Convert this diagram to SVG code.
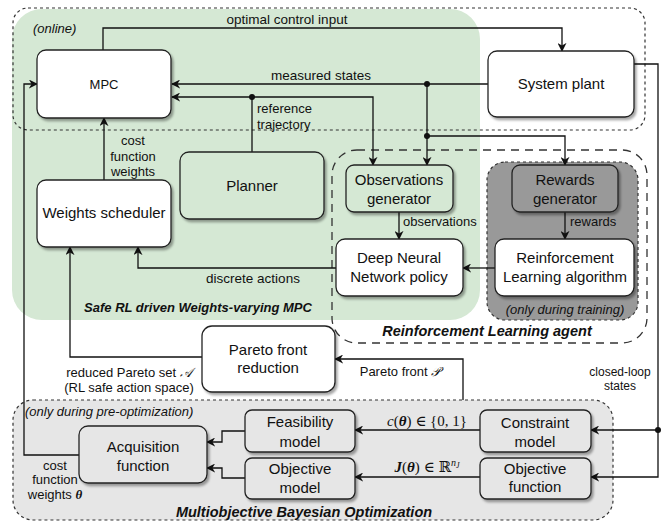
<svg xmlns="http://www.w3.org/2000/svg" width="664" height="521" viewBox="0 0 664 521">
<style>
text{font-family:"Liberation Sans",Arial,sans-serif;fill:#111}
.n{font-size:15px;text-anchor:middle}
.l{font-size:13.5px}
.s{font-size:13px}
.c{text-anchor:middle}
.bi{font-weight:bold;font-style:italic}
.it{font-style:italic}
.box{stroke:#222;stroke-width:1.3}
.w{fill:#fff}
.g{fill:#d5e8d4}
.gr{fill:#e6e6e6}
.dg{fill:#999}
.e{fill:none;stroke:#111;stroke-width:1.3}
.m{font-family:"Liberation Serif","DejaVu Serif",serif}
</style>
<defs>
<marker id="a" viewBox="0 0 10 10" refX="9" refY="5" markerWidth="9" markerHeight="9" markerUnits="userSpaceOnUse" orient="auto">
<path d="M0,0 L10,5 L0,10 L3,5 z" fill="#111"/>
</marker>
<filter id="sh" x="-10%" y="-10%" width="130%" height="130%">
<feDropShadow dx="2" dy="2.5" stdDeviation="0.8" flood-color="#000" flood-opacity="0.35"/>
</filter>
</defs>

<!-- regions -->
<g id="regions">
<rect x="12" y="9" width="468" height="311" rx="30" fill="#d5e8d4"/>
<rect x="13" y="8" width="632" height="122" rx="15" fill="none" stroke="#333" stroke-width="1.2" stroke-dasharray="3,3"/>
<rect x="332" y="150" width="315" height="193" rx="25" fill="none" stroke="#333" stroke-width="1.3" stroke-dasharray="8,6"/>
<rect x="487" y="162" width="151" height="158" rx="18" fill="#999" stroke="#333" stroke-width="1.2" stroke-dasharray="3,3"/>
<rect x="13" y="400" width="600" height="120" rx="20" fill="#e6e6e6" stroke="#333" stroke-width="1.2" stroke-dasharray="3,3"/>
<text x="33" y="33" class="s it">(online)</text>
<text x="198" y="312" class="s bi c">Safe RL driven Weights-varying MPC</text>
<text x="487" y="336" class="bi c" style="font-size:14.5px">Reinforcement Learning agent</text>
<text x="565" y="314" class="s it c">(only during training)</text>
<text x="25" y="416" class="s it">(only during pre-optimization)</text>
<text x="304" y="517" class="bi c" style="font-size:14.5px">Multiobjective Bayesian Optimization</text>
</g>

<!-- connectors -->
<g id="connectors">
<path class="e" d="M103,50 V28 H562 V51" marker-end="url(#a)"/>
<text x="287" y="24" class="l c">optimal control input</text>
<path class="e" d="M488,84 H172" marker-end="url(#a)"/>
<text x="321" y="80" class="l c">measured states</text>
<path class="e" d="M427,84 V165" marker-end="url(#a)"/>
<path class="e" d="M427,136 H565 V165" marker-end="url(#a)"/>
<circle cx="427" cy="84" r="3" fill="#111"/>
<circle cx="427" cy="136" r="3" fill="#111"/>
<path class="e" d="M252,152 V97 H172" marker-end="url(#a)"/>
<path class="e" d="M252,97 H373 V165" marker-end="url(#a)"/>
<circle cx="252" cy="97" r="3" fill="#111"/>
<text x="257" y="113" class="s">reference</text>
<text x="257" y="129" class="s">trajectory</text>
<path class="e" d="M104,180 V118" marker-end="url(#a)"/>
<text x="133" y="145" class="s c">cost</text>
<text x="133" y="161" class="s c">function</text>
<text x="133" y="176" class="s c">weights</text>
<path class="e" d="M79,455 H24 V84 H37" marker-end="url(#a)"/>
<text x="55" y="470" class="s c">cost</text>
<text x="55" y="484" class="s c">function</text>
<text x="55" y="499" class="s c">weights <tspan class="m" font-weight="bold" font-style="italic">θ</tspan></text>
<path class="e" d="M336,268 H138 V247" marker-end="url(#a)"/>
<text x="253" y="283" class="l c">discrete actions</text>
<path class="e" d="M202,357 H70 V247" marker-end="url(#a)"/>
<text x="129" y="377" class="s c">reduced Pareto set <tspan class="m" font-style="italic">𝒜</tspan></text>
<text x="129" y="392" class="s c">(RL safe action space)</text>
<path class="e" d="M495,268 H463" stroke-width="2" marker-end="url(#a)"/>
<path class="e" d="M399,212 V239" marker-end="url(#a)"/>
<text x="403" y="226" class="s">observations</text>
<path class="e" d="M565,212 V239" marker-end="url(#a)"/>
<text x="570" y="226" class="s">rewards</text>
<path class="e" d="M463,400 V359 H335" marker-end="url(#a)"/>
<text x="400" y="376" class="s c">Pareto front <tspan class="m" font-style="italic">𝒫</tspan></text>
<path class="e" d="M245,431 H222 V442 H207" marker-end="url(#a)"/>
<path class="e" d="M245,478 H222 V468 H207" marker-end="url(#a)"/>
<path class="e" d="M480,430 H355" marker-end="url(#a)"/>
<text x="427" y="426" class="m c" style="font-size:15px"><tspan font-style="italic">c</tspan>(<tspan font-weight="bold" font-style="italic">θ</tspan>) ∈ {0, 1}</text>
<path class="e" d="M480,477 H355" marker-end="url(#a)"/>
<text x="427" y="472" class="m c" style="font-size:15px"><tspan font-weight="bold" font-style="italic">J</tspan>(<tspan font-weight="bold" font-style="italic">θ</tspan>) ∈ ℝ<tspan dy="-6" font-size="10" font-style="italic">n<tspan font-size="8" dy="2">J</tspan></tspan></text>
<path class="e" d="M634,64 H658 V477 H591" marker-end="url(#a)"/>
<path class="e" d="M658,430 H591" marker-end="url(#a)"/>
<circle cx="658" cy="430" r="3" fill="#111"/>
<text x="620" y="376" class="c" style="font-size:12px">closed-loop</text>
<text x="620" y="390" class="c" style="font-size:12px">states</text>
</g>

<!-- nodes -->
<g id="mpc"><rect x="37" y="50" width="134" height="68" rx="9" class="box w" filter="url(#sh)"/><text x="104" y="89" class="c" style="font-size:13px">MPC</text></g>
<g id="plant"><rect x="488" y="51" width="146" height="66" rx="9" class="box w" filter="url(#sh)"/><text x="561" y="89" class="n">System plant</text></g>
<g id="planner"><rect x="180" y="152" width="144" height="67" rx="9" class="box g" filter="url(#sh)"/><text x="252" y="191" class="n">Planner</text></g>
<g id="weights"><rect x="37" y="180" width="134" height="67" rx="9" class="box w" filter="url(#sh)"/><text x="104" y="218" class="n">Weights scheduler</text></g>
<g id="obs"><rect x="346" y="165" width="107" height="47" rx="8" class="box g" filter="url(#sh)"/><text x="399" y="185" class="n">Observations</text><text x="399" y="204" class="n">generator</text></g>
<g id="rewards"><rect x="512" y="165" width="106" height="47" rx="8" class="box dg" filter="url(#sh)"/><text x="565" y="185" class="n">Rewards</text><text x="565" y="204" class="n">generator</text></g>
<g id="dnn"><rect x="336" y="239" width="127" height="57" rx="9" class="box w" filter="url(#sh)"/><text x="399" y="263" class="n">Deep Neural</text><text x="399" y="282" class="n">Network policy</text></g>
<g id="rlalg"><rect x="495" y="239" width="139" height="57" rx="9" class="box w" filter="url(#sh)"/><text x="565" y="263" class="n">Reinforcement</text><text x="565" y="282" class="n">Learning algorithm</text></g>
<g id="pareto"><rect x="202" y="326" width="133" height="66" rx="10" class="box w" filter="url(#sh)"/><text x="268" y="355" class="n">Pareto front</text><text x="268" y="373" class="n">reduction</text></g>
<g id="acq"><rect x="79" y="426" width="128" height="57" rx="9" class="box gr" filter="url(#sh)"/><text x="143" y="452" class="n">Acquisition</text><text x="143" y="471" class="n">function</text></g>
<g id="feas"><rect x="245" y="410" width="110" height="42" rx="7" class="box gr" filter="url(#sh)"/><text x="300" y="427" class="n">Feasibility</text><text x="300" y="447" class="n">model</text></g>
<g id="objm"><rect x="245" y="458" width="110" height="41" rx="7" class="box gr" filter="url(#sh)"/><text x="300" y="474" class="n">Objective</text><text x="300" y="493" class="n">model</text></g>
<g id="cons"><rect x="480" y="410" width="111" height="42" rx="7" class="box gr" filter="url(#sh)"/><text x="535" y="428" class="n">Constraint</text><text x="535" y="447" class="n">model</text></g>
<g id="objf"><rect x="480" y="458" width="111" height="41" rx="7" class="box gr" filter="url(#sh)"/><text x="535" y="474" class="n">Objective</text><text x="535" y="492" class="n">function</text></g>
</svg>
